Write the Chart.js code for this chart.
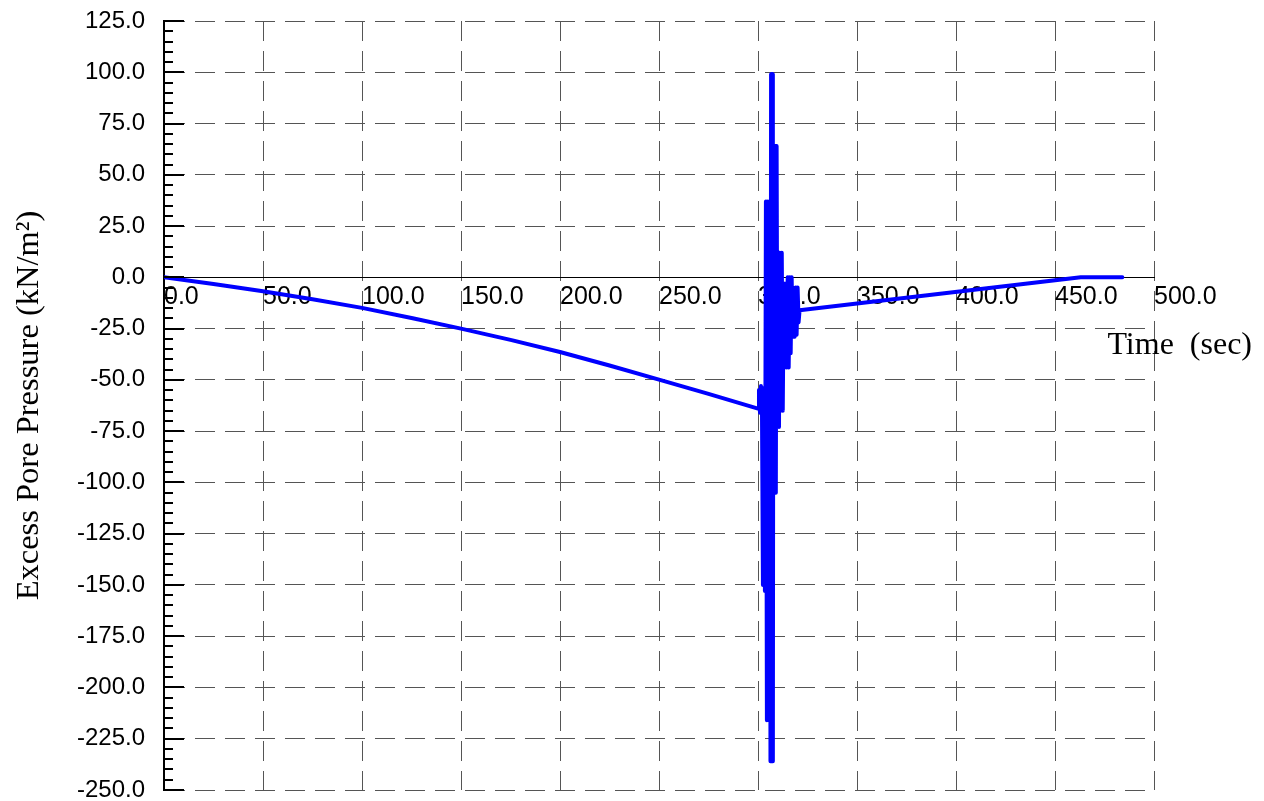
<!DOCTYPE html>
<html>
<head>
<meta charset="utf-8">
<script src="https://cdn.jsdelivr.net/npm/chart.js@4.4.1/dist/chart.umd.min.js"></script>
<style>
    html, body { margin: 0; padding: 0; background: #fff; }
    #wrap { width: 1264px; height: 801px; }
</style>
</head>
<body>
<div id="wrap"><canvas id="myChart" width="1264" height="801"></canvas></div>
<script>
// Slow drawdown before the shaking
const approachTimes  = [0, 25, 50, 75, 100, 125, 150, 175, 200, 225, 250, 275, 300];
const approachValues = [0, -3.2, -6.8, -10.7, -14.9, -19.8, -25, -30.5, -36.4, -43, -49.9, -56.8, -64];

// Shaking phase (read peak by peak from the picture)
const shakeTimes  = [300.5, 301, 301.5, 302, 302.5, 303, 303.5, 304, 304.5, 305, 305.5, 306,
                     306.3, 306.6, 306.9, 307.2, 307.5, 307.8, 308.2, 308.6, 309, 309.4, 309.8,
                     310.2, 310.6, 311, 311.5, 312, 312.5, 313, 313.5, 314, 314.5, 315, 315.5,
                     316, 316.5, 317, 317.5, 318, 318.5, 319, 319.5, 320, 320.5, 321];
const shakeValues = [-55, -66, -53, -62, -150, -54, -153, 37, -216, 37, -216, 37,
                     -236, 99, -236, 99, -236, 64, -105, 64, -105, 64, -73,
                     12, -73, 12, -65, 12, -65, -3, -44, -3, -44, 0, -44,
                     0, -37, 0, -29, -20, -29, -5, -28, -5, -22, -16];

// Dissipation afterwards
const tailTimes  = [463, 484];
const tailValues = [0, 0];

const xMin = 0, xMax = 500, xStep = 50;
const yMin = -250, yMax = 125, yStep = 25, yMinorStep = 5;

const allTimes = approachTimes.concat(shakeTimes, tailTimes);
const allValues = approachValues.concat(shakeValues, tailValues);
const points = allTimes.map((t, i) => ({ x: t, y: allValues[i] }));

const sansFamily = "'Liberation Sans', Arial, sans-serif";
const titleFont = "'Liberation Serif', 'Times New Roman', serif";

// Tick marks on the inside of the left axis
const insideTicks = {
    id: "insideTicks",
    afterDraw(chart) {
        const y = chart.scales.y;
        const ctx = chart.ctx;
        const left = chart.chartArea.left;
        ctx.save();
        ctx.strokeStyle = "#000";
        ctx.lineWidth = 2;
        for (let v = yMin; v <= yMax; v += yMinorStep) {
            const py = Math.round(y.getPixelForValue(v));
            const len = v % yStep === 0 ? 20 : 9;
            ctx.beginPath();
            ctx.moveTo(left, py);
            ctx.lineTo(left + len, py);
            ctx.stroke();
        }
        ctx.restore();
    }
};

// x axis title sits to the right, under the end of the axis
const timeTitle = {
    id: "timeTitle",
    afterDraw(chart) {
        const ctx = chart.ctx;
        const y0 = chart.scales.y.getPixelForValue(0);
        ctx.save();
        ctx.fillStyle = "#000";
        ctx.font = "32px " + titleFont;
        ctx.textAlign = "right";
        ctx.textBaseline = "alphabetic";
        ctx.fillText("Time  (sec)", chart.chartArea.right + 98, y0 + 77);
        ctx.restore();
    }
};

const ctx = document.getElementById("myChart").getContext("2d");
const myChart = new Chart(ctx, {
    type: "line",
    data: {
        datasets: [{
            data: points,
            borderColor: "#0000ff",
            borderWidth: 4,
            pointRadius: 0,
            tension: 0,
            fill: false,
            borderJoinStyle: "round",
            borderCapStyle: "round"
        }]
    },
    options: {
        responsive: false,
        animation: false,
        devicePixelRatio: 1,
        parsing: false,
        layout: { padding: { left: 0, right: 110, top: 21, bottom: 11 } },
        plugins: { legend: { display: false }, tooltip: { enabled: false } },
        scales: {
            x: {
                type: "linear",
                position: { y: 0 },
                min: xMin,
                max: xMax,
                ticks: {
                    stepSize: xStep,
                    align: "start",
                    padding: 5,
                    color: "#000",
                    font: { family: sansFamily, size: 25, lineHeight: 1.2 },
                    maxRotation: 0,
                    autoSkip: false,
                    callback: (v) => v.toFixed(1)
                },
                grid: { color: "#555", lineWidth: 1, drawTicks: false },
                border: { display: true, color: "#000", width: 1, dash: [20, 10] }
            },
            y: {
                type: "linear",
                position: "left",
                min: yMin,
                max: yMax,
                ticks: {
                    stepSize: yStep,
                    padding: 19,
                    color: "#000",
                    font: { family: sansFamily, size: 24, lineHeight: 1.2 },
                    autoSkip: false,
                    callback: (v) => v.toFixed(1)
                },
                grid: { color: "#555", lineWidth: 1, drawTicks: false },
                border: { display: true, color: "#000", width: 2, dash: [20, 10] },
                title: {
                    display: true,
                    text: "Excess Pore Pressure (kN/m²)",
                    color: "#000",
                    font: { family: titleFont, size: 32.5, lineHeight: 1.2 },
                    padding: { top: 10, bottom: 0 }
                },
                afterFit: (scale) => {
                    scale.width = 164;
                    scale.paddingTop = 0;
                    scale.paddingBottom = 0;
                }
            }
        }
    },
    plugins: [insideTicks, timeTitle]
});
</script>
</body>
</html>
